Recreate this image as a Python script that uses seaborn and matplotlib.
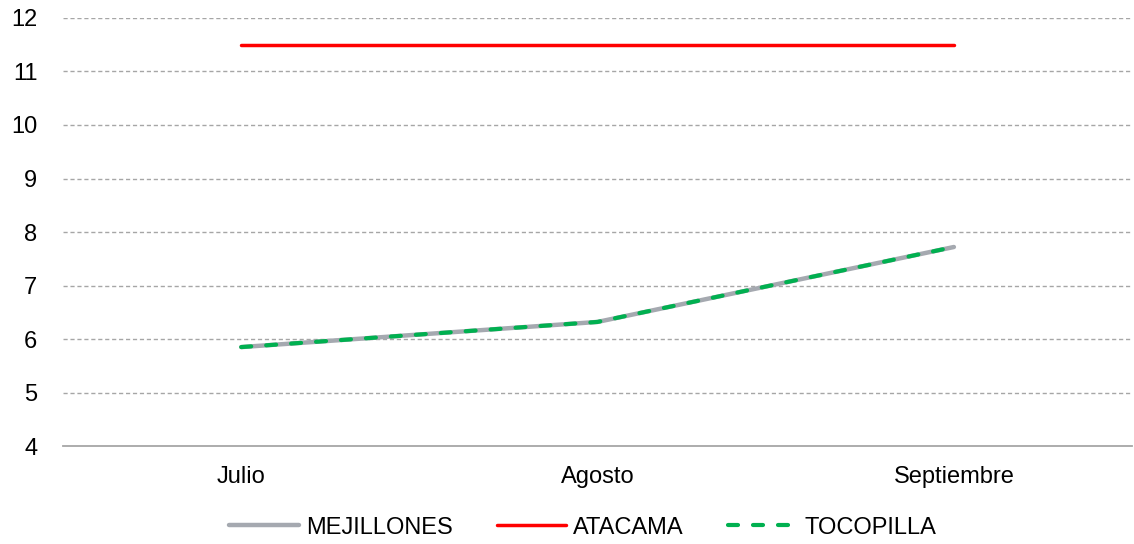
import matplotlib
matplotlib.use("Agg")
import matplotlib.pyplot as plt
import seaborn as sns
import pandas as pd
from matplotlib.lines import Line2D

months = ["Julio", "Agosto", "Septiembre"]
mejillones = [5.85, 6.32, 7.72]
atacama = [11.5, 11.5, 11.5]
tocopilla = [5.85, 6.32, 7.72]
y_ticks = [4, 5, 6, 7, 8, 9, 10, 11, 12]

sns.set_theme(style="white")
plt.rcParams["font.family"] = ["Liberation Sans", "DejaVu Sans"]

df = pd.DataFrame({
    "mes": months * 3,
    "valor": mejillones + atacama + tocopilla,
    "serie": ["MEJILLONES"] * 3 + ["ATACAMA"] * 3 + ["TOCOPILLA"] * 3,
})
df["x"] = df["mes"].map({m: i for i, m in enumerate(months)})

names = ["MEJILLONES", "ATACAMA", "TOCOPILLA"]
colors = {"MEJILLONES": "#A5A9B0", "ATACAMA": "#FF0000", "TOCOPILLA": "#00B050"}
widths = {"MEJILLONES": 3.2, "ATACAMA": 2.5, "TOCOPILLA": 3.0}
styles = {"MEJILLONES": "-", "ATACAMA": "-", "TOCOPILLA": (0, (2.4, 3.6))}

fig = plt.figure(figsize=(11.34, 5.44), dpi=100)
ax = fig.add_axes([0.0556, 0.180, 0.9427, 0.787])

for name in names:
    sub = df[df["serie"] == name]
    sns.lineplot(data=sub, x="x", y="valor", ax=ax, color=colors[name],
                 linewidth=widths[name], linestyle=styles[name],
                 legend=False, solid_capstyle="round", dash_capstyle="round",
                 zorder=3)

ax.set_xlim(-0.5, len(months) - 0.5)
ax.set_ylim(4, 12)
ax.set_xticks(range(len(months)))
ax.set_xticklabels(months)
ax.set_yticks(y_ticks)
ax.set_xlabel("")
ax.set_ylabel("")
ax.tick_params(axis="both", length=0, labelsize=17, colors="#000000")
ax.tick_params(axis="x", pad=14)
ax.tick_params(axis="y", pad=18.5)

for y in y_ticks[1:]:
    ax.axhline(y, color="#A6A6A6", linewidth=1.0, linestyle=(0, (3, 2)), zorder=1)

for side in ["left", "right", "top"]:
    ax.spines[side].set_visible(False)
ax.spines["bottom"].set_color("#A6A6A6")
ax.spines["bottom"].set_linewidth(1.3)

handles = [Line2D([0], [0], color=colors[n], linewidth=widths[n], linestyle=styles[n],
                  solid_capstyle="round", dash_capstyle="round")
           for n in names]
fig.legend(handles, names, loc="center",
           bbox_to_anchor=(0.514, 0.030), ncol=3, frameon=False, fontsize=17,
           labelcolor="#000000",
           handlelength=2.95, handletextpad=0.3, columnspacing=1.85)

fig.savefig("out.png", dpi=100)
